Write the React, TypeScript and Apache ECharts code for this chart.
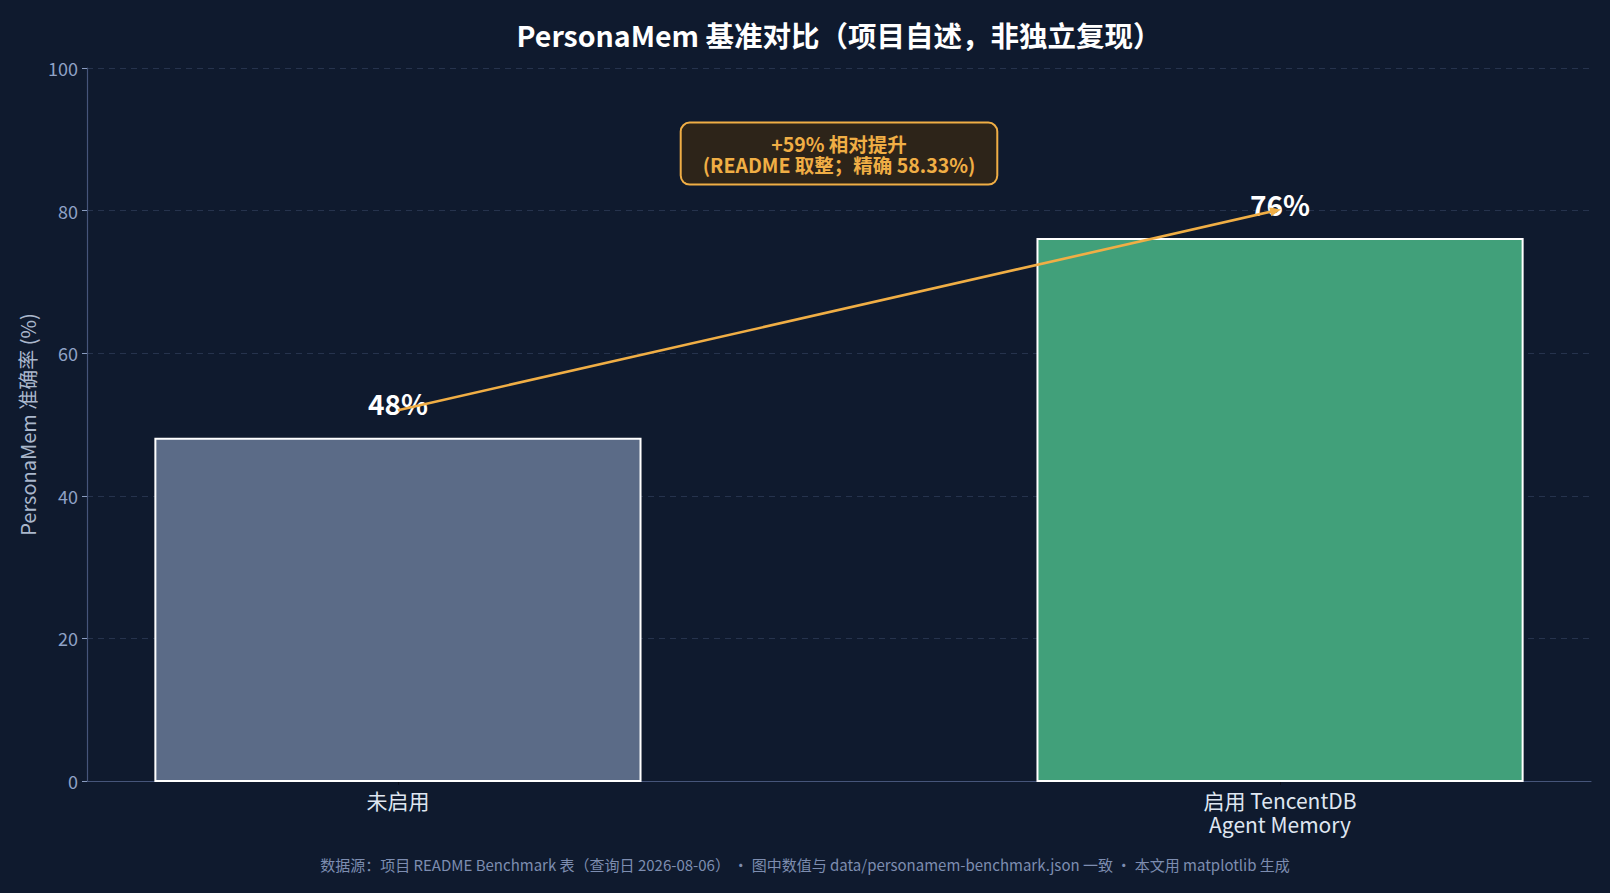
import React, { useEffect, useRef } from "react";
import * as echarts from "echarts";

const categories = ["未启用", "启用 TencentDB\nAgent Memory"];
const accuracy = [48, 76];
const barColors = ["#5b6b87", "#41a07a"];
const valueLabels = ["48%", "76%"];
const yTicks = [0, 20, 40, 60, 80, 100];
const arrowFrom = [0, 52];
const arrowTo = [0.995, 80];
const notePos = [0.5, 88];
const noteText = "+59% 相对提升\n(README 取整；精确 58.33%)";
const titleText = "PersonaMem 基准对比（项目自述，非独立复现）";
const footerText =
  "数据源：项目 README Benchmark 表（查询日 2026-08-06） · 图中数值与 data/personamem-benchmark.json 一致 · 本文用 matplotlib 生成";

const FONT = "'Noto Sans CJK SC', 'Noto Sans', sans-serif";
const BAR_W = 0.55;

export default function App() {
  const ref = useRef<HTMLDivElement>(null);
  useEffect(() => {
    document.body.style.margin = "0";
    const chart = echarts.init(ref.current!, null, { renderer: "svg" });
    const option: any = {
      animation: false,
      backgroundColor: "#0f1a2e",
      textStyle: { fontFamily: FONT },
      grid: { left: 87, right: 19, top: 68, bottom: 112, containLabel: false },
      xAxis: {
        type: "value",
        min: -0.3525,
        max: 1.3525,
        splitLine: { show: false },
        axisLine: { show: true, onZero: false, lineStyle: { color: "#46557a", width: 1.2 } },
        axisTick: { show: true, customValues: [0, 1], length: 4, lineStyle: { color: "#0a0f1a" } },
        axisLabel: {
          customValues: [0, 1],
          formatter: (v: number) => categories[Math.round(v)] ?? "",
          color: "#dfe6f1",
          fontSize: 21,
          lineHeight: 24,
          margin: 7,
          fontFamily: FONT,
        },
      },
      yAxis: {
        type: "value",
        min: yTicks[0],
        max: yTicks[yTicks.length - 1],
        interval: 20,
        name: "PersonaMem 准确率 (%)",
        nameLocation: "middle",
        nameGap: 45,
        nameTextStyle: { color: "#aab7cc", fontSize: 20, fontFamily: FONT },
        axisLine: { show: true, onZero: false, lineStyle: { color: "#46557a", width: 1.2 } },
        axisTick: { show: true, length: 5, lineStyle: { color: "#8a9cc0" } },
        axisLabel: { color: "#8fa2c6", fontSize: 18, margin: 9, fontFamily: FONT },
        splitLine: { show: true, lineStyle: { color: "#26334d", type: [6, 5], width: 1 } },
      },
      graphic: [
        {
          type: "text",
          x: 839,
          y: 34,
          style: {
            text: titleText,
            fill: "#ffffff",
            font: `bold 28.5px ${FONT}`,
            align: "center",
            verticalAlign: "middle",
          },
        },
        {
          type: "text",
          x: 805,
          y: 864,
          style: {
            text: footerText,
            fill: "#7d8db0",
            font: `15px ${FONT}`,
            align: "center",
            verticalAlign: "middle",
          },
        },
      ],
      series: [
        {
          type: "custom",
          data: accuracy.map((v, i) => [i, v]),
          silent: true,
          z: 2,
          renderItem: (params: any, api: any) => {
            const i = api.value(0);
            const v = api.value(1);
            const p1 = api.coord([i - BAR_W / 2, v]);
            const p2 = api.coord([i + BAR_W / 2, 0]);
            const lp = api.coord([i, v + 3]);
            return {
              type: "group",
              children: [
                {
                  type: "rect",
                  shape: { x: p1[0], y: p1[1], width: p2[0] - p1[0], height: p2[1] - p1[1] },
                  style: { fill: barColors[params.dataIndex], stroke: "#ffffff", lineWidth: 2 },
                },
                {
                  type: "text",
                  x: lp[0],
                  y: lp[1],
                  z2: 10,
                  style: {
                    text: valueLabels[params.dataIndex],
                    fill: "#ffffff",
                    font: `bold 28px ${FONT}`,
                    align: "center",
                    verticalAlign: "bottom",
                  },
                },
              ],
            };
          },
          markLine: {
            silent: true,
            symbol: ["none", "triangle"],
            symbolSize: [9, 11],
            label: { show: false },
            lineStyle: { color: "#f0ae45", width: 2.6, type: "solid" },
            emphasis: { disabled: true },
            data: [[{ coord: arrowFrom }, { coord: arrowTo }]],
            z: 5,
          },
        },
        {
          type: "custom",
          data: [notePos],
          silent: true,
          z: 6,
          renderItem: (params: any, api: any) => {
            const p = api.coord([api.value(0), api.value(1)]);
            return {
              type: "text",
              x: p[0],
              y: p[1],
              style: {
                text: noteText,
                fill: "#f0ae45",
                font: `bold 19.5px ${FONT}`,
                lineHeight: 21,
                align: "center",
                verticalAlign: "middle",
                backgroundColor: "#2d2419",
                borderColor: "#f0ae45",
                borderWidth: 2,
                borderRadius: 8,
                padding: [9, 21, 9, 21],
              },
            };
          },
        },
      ],
    };
    chart.setOption(option);
    return () => chart.dispose();
  }, []);
  return <div ref={ref} style={{ width: 1610, height: 893 }} />;
}
